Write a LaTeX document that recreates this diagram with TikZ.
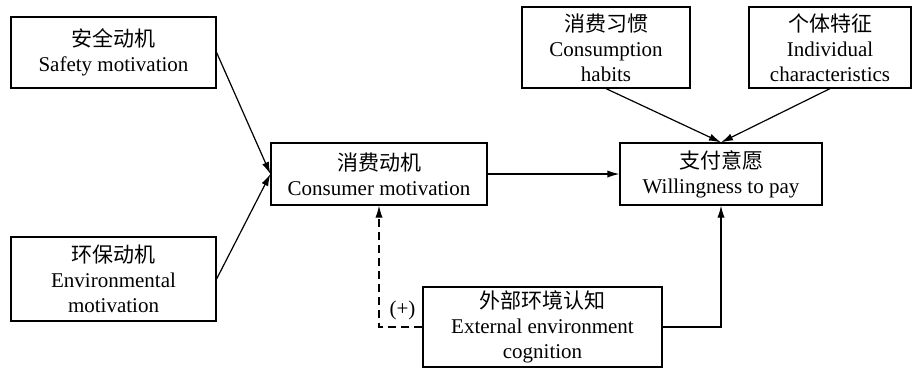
\documentclass[tikz,border=0pt]{standalone}
\usepackage{fontspec}
\setmainfont{Liberation Serif}
\newfontfamily\cjk{Noto Sans CJK SC}
\usepackage{tikz}
\usetikzlibrary{arrows.meta}

\begin{document}
\begin{tikzpicture}[
    x=0.5pt, y=-0.5pt,
    box/.style={draw, line width=0.6pt, align=center, inner sep=0pt,
                font=\fontsize{10.5}{12.5}\selectfont},
    arrow line/.style={-{Latex[length=6pt,width=3.6pt]}, line width=0.6pt},
    dashed line/.style={dash pattern=on 4pt off 2.5pt},
    every node/.style={color=black}
    ]

    \useasboundingbox (0,0) rectangle (914,372);
    % motives
    \node[box, minimum width=102.5pt, minimum height=35.5pt] (safety) at (113.5,52.5)
        {{\cjk 安全动机}\\Safety motivation};
    \node[box, minimum width=102.5pt, minimum height=42pt] (environ) at (113.5,279)
        {{\cjk 环保动机}\\Environmental\\motivation};
    \node[box, minimum width=108pt, minimum height=31pt] (consumer) at (379,174)
        {{\cjk 消费动机}\\Consumer motivation};
    % willingness and its factors
    \node[box, minimum width=101pt, minimum height=31pt] (pay) at (721,174)
        {{\cjk 支付意愿}\\Willingness to pay};
    \node[box, minimum width=84pt, minimum height=40.5pt] (habits) at (606,47.5)
        {{\cjk 消费习惯}\\Consumption\\habits};
    \node[box, minimum width=81pt, minimum height=40.5pt] (individual) at (830,47.5)
        {{\cjk 个体特征}\\Individual\\characteristics};
    \node[box, minimum width=119.5pt, minimum height=40pt] (external) at (542.5,327)
        {{\cjk 外部环境认知}\\External environment\\cognition};
    % arrows
    \draw[arrow line] (safety.east) -- (consumer.west);
    \draw[arrow line] (environ.east) -- (consumer.west);
    \draw[arrow line] (consumer.east) -- (pay.west);
    \draw[arrow line] (habits.south) -- (pay.north);
    \draw[arrow line] (individual.south) -- (pay.north);
    \draw[arrow line, dashed line] (external.west) -| (consumer.south)
        node[pos=0.23, above, font=\fontsize{10.5}{12.5}\selectfont] (plus) {(+)};
    \draw[arrow line] (external.east) -| (pay.south);

\end{tikzpicture}
\end{document}
